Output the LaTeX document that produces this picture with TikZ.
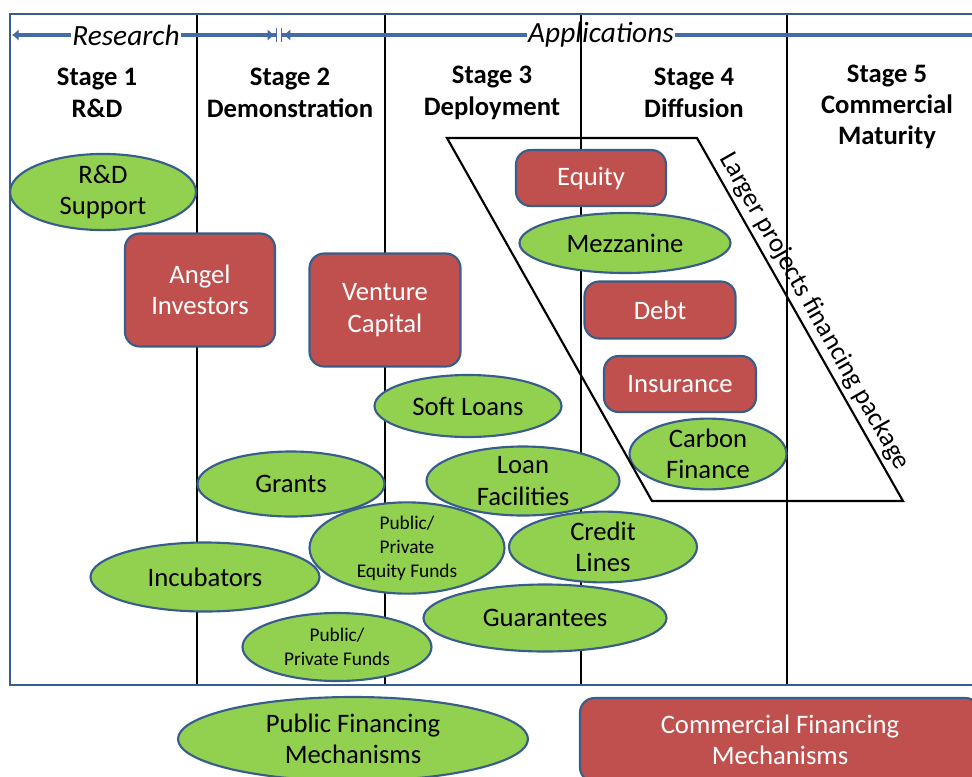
\documentclass[tikz,border=0pt]{standalone}
\usepackage{fontspec}
\setmainfont{Carlito}
\usetikzlibrary{shapes.geometric,arrows.meta}

\definecolor{fundgreen}{RGB}{146,208,80}
\definecolor{bankred}{RGB}{192,80,77}
\definecolor{edgeblue}{RGB}{56,93,138}
\definecolor{arrowblue}{RGB}{68,107,163}

\begin{document}
\begin{tikzpicture}[x=0.75pt,y=-0.75pt,
    big/.style={font=\fontsize{20}{23.5}\selectfont},
    small/.style={font=\fontsize{14.5}{18}\selectfont},
    dims/.style 2 args={minimum width=#1*0.75pt, minimum height=#2*0.75pt},
    public/.style={ellipse, draw=edgeblue, line width=1.6pt, fill=fundgreen,
        inner sep=0pt, align=center},
    private/.style={rectangle, rounded corners=11pt, draw=edgeblue, line width=1.6pt,
        fill=bankred, text=white, inner sep=0pt, align=center},
    stagelbl/.style={font=\bfseries\fontsize{20}{23.5}\selectfont, align=center},
    phase/.style={font=\itshape\fontsize{22}{24}\selectfont, inner sep=1pt},
    flow/.style={arrowblue, line width=3.6pt}]
    \useasboundingbox (0,0) rectangle (972,776);

    % the stage grid
    \foreach \x in {197,385,581,787}
        \draw[line width=0.8pt] (\x,14) -- (\x,685);
    \draw[edgeblue, line width=2pt] (10,14) rectangle (990,685);

    % research / applications arrows
    \node[phase] (research) at (126,35) {Research};
    \node[phase] (apps) at (601,35) {Applications};
    \coordinate (resL) at (12,35);
    \coordinate (split) at (279,35);
    \coordinate (appR) at (990,35);
    \draw[flow, -{Latex[length=5pt,width=9pt]}] (research) -- (resL);
    \draw[flow, shorten >=1.5pt, -{Latex[length=5pt,width=9pt,sep=1pt] Bar[width=10pt,line width=1pt]}] (research) -- (split);
    \draw[flow, shorten >=1.5pt, -{Latex[length=5pt,width=9pt,sep=1pt] Bar[width=10pt,line width=1pt]}] (apps) -- (split);
    \draw[flow] (apps) -- (appR);

    % stages
    \node[stagelbl] (st1) at (97,93) {Stage 1\\R\&D};
    \node[stagelbl] (st2) at (290,93) {Stage 2\\Demonstration};
    \node[stagelbl] (st3) at (492,93) {Stage 3\\Deployment};
    \node[stagelbl] (st4) at (694,93) {Stage 4\\Diffusion};
    \node[stagelbl] (st5) at (887,107) {Stage 5\\Commercial\\Maturity};

    % commercial mechanisms
    \node[private, big, dims={150}{113}] (angel) at (200,290) {Angel\\Investors};
    \node[private, big, dims={151}{113}] (venture) at (385,310) {Venture\\Capital};
    \node[private, big, dims={150}{56}] (equity) at (591,178) {Equity};
    \node[private, big, dims={151}{57}] (debt) at (660,310) {Debt};
    \node[private, big, dims={152}{56}] (insurance) at (680,384) {Insurance};

    % public mechanisms
    \node[public, big, dims={186}{66}] (rnd) at (103,192) {R\&D\\Support};
    \node[public, big, dims={211}{60}] (mezz) at (625,243) {Mezzanine};
    \node[public, big, dims={157}{66}] (carbon) at (708,454) {Carbon\\Finance};
    \node[public, big, dims={187}{62}] (soft) at (468,406) {Soft Loans};
    \node[public, big, dims={187}{65}] (grants) at (291,484) {Grants};
    \node[public, big, dims={193}{69}] (loanfac) at (523,481) {Loan\\Facilities};
    \node[public, small, dims={195}{74}] (eqfunds) at (407,548) {Public/\\Private\\Equity Funds};
    \node[public, big, dims={188}{65}] (credit) at (603,547) {Credit\\Lines};
    \node[public, big, dims={229}{69}] (incub) at (205,577) {Incubators};
    \node[public, big, dims={243}{67}] (guar) at (545,618) {Guarantees};
    \node[public, small, dims={189}{68}] (funds) at (337,647) {Public/\\Private Funds};

    % larger projects package
    \draw[line width=1.6pt] (447,138) -- (697,138)
        -- node[sloped, above, big, inner sep=3pt] {Larger projects financing package} (903,501)
        -- (652,501) -- cycle;

    % legend
    \node[public, big, dims={350}{84}] (publeg) at (353,739) {Public Financing\\Mechanisms};
    \node[private, big, dims={400}{84}] (privleg) at (780,740) {Commercial Financing\\Mechanisms};
\end{tikzpicture}
\end{document}
